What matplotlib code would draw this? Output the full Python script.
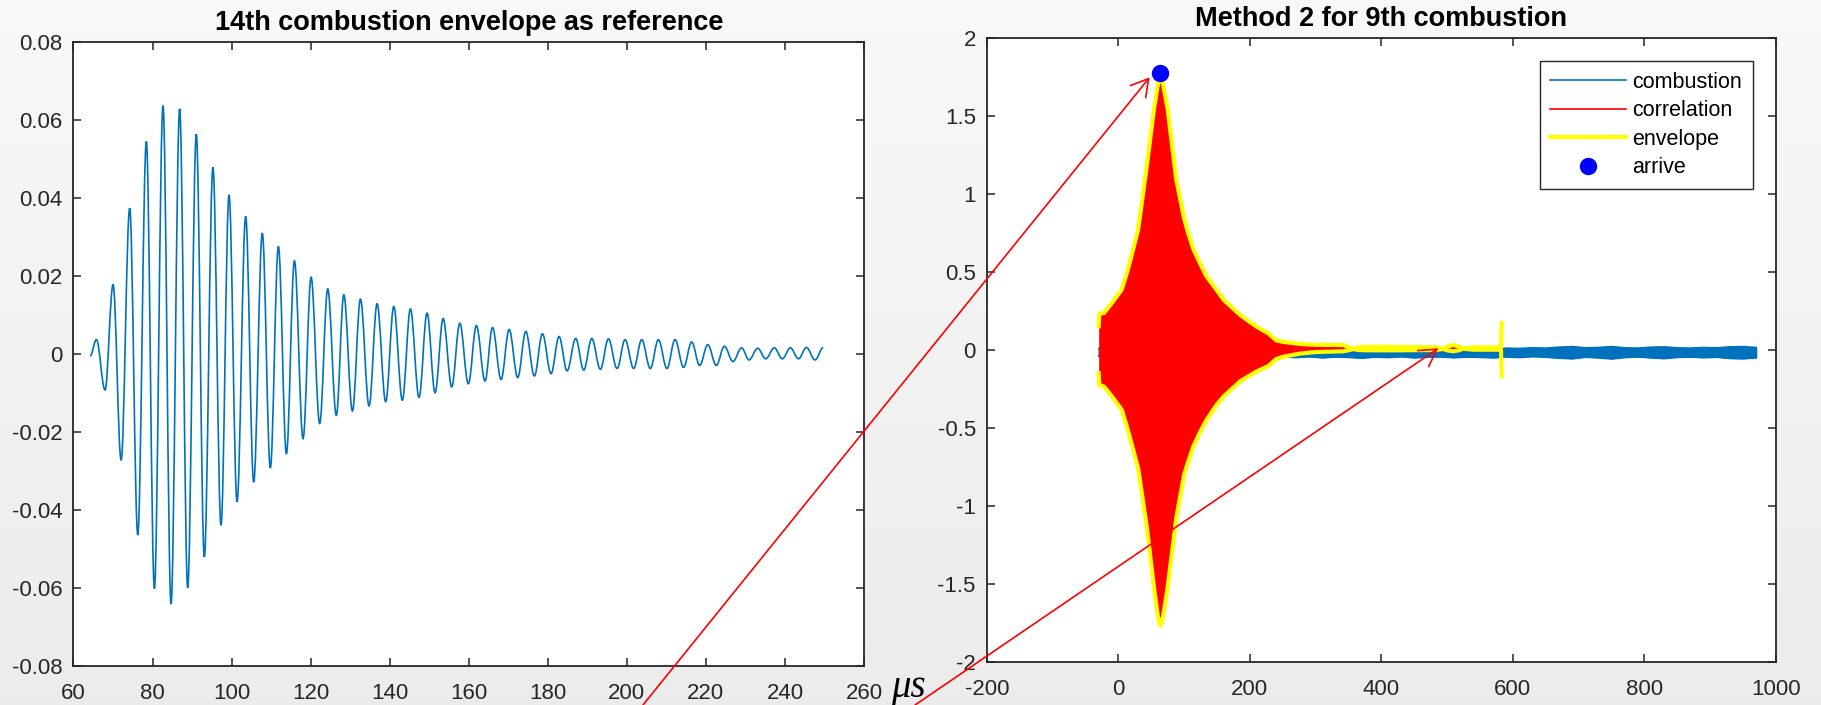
import numpy as np
import matplotlib
matplotlib.use("Agg")
import matplotlib.pyplot as plt
from matplotlib.path import Path
from matplotlib.patches import PathPatch, ConnectionPatch, ArrowStyle

plt.rcParams['font.family'] = ['Liberation Sans', 'DejaVu Sans']
plt.rcParams['axes.unicode_minus'] = False

# ---------------- left panel: 14th combustion reference waveform ----------------
ref_start = (64.2, -0.0006)
ref_end = (249.7, 0.0016)
peak_t = [65.80, 70.01, 74.22, 78.43, 82.65, 86.86, 91.07, 95.28, 99.35, 103.56,
          107.77, 111.84, 115.90, 120.11, 124.32, 128.39, 132.60, 136.81, 141.03, 145.24,
          149.45, 153.52, 157.73, 161.94, 166.01, 170.22, 174.43, 178.64, 182.85, 187.06,
          191.13, 195.34, 199.55, 203.76, 207.98, 212.19, 216.40, 220.47, 224.68, 229.03,
          233.10, 237.31, 241.37, 245.44]
peak_v = [0.0036, 0.0177, 0.0373, 0.0544, 0.0636, 0.0628, 0.0563, 0.0478, 0.0407, 0.0352,
          0.0309, 0.0275, 0.0238, 0.0196, 0.0166, 0.0151, 0.0140, 0.0128, 0.0121, 0.0115,
          0.0104, 0.0090, 0.0078, 0.0072, 0.0067, 0.0062, 0.0057, 0.0051, 0.0044, 0.0039,
          0.0039, 0.0038, 0.0036, 0.0036, 0.0036, 0.0036, 0.0030, 0.0023, 0.0019, 0.0015,
          0.0014, 0.0015, 0.0015, 0.0016]
trough_t = [67.98, 72.05, 76.26, 80.47, 84.68, 88.89, 93.10, 97.32, 101.38, 105.59,
            109.80, 113.87, 118.08, 122.29, 126.50, 130.57, 134.78, 138.99, 143.20, 147.42,
            151.48, 155.69, 159.90, 164.11, 168.18, 172.39, 176.61, 180.82, 184.88, 189.09,
            193.30, 197.52, 201.73, 205.94, 210.15, 214.36, 218.43, 222.64, 226.85, 230.92,
            235.13, 239.34, 243.41, 247.62]
trough_v = [-0.0093, -0.0273, -0.0465, -0.0602, -0.0642, -0.0600, -0.0521, -0.0440, -0.0380, -0.0329,
            -0.0293, -0.0257, -0.0218, -0.0179, -0.0158, -0.0147, -0.0134, -0.0123, -0.0119, -0.0112,
            -0.0100, -0.0085, -0.0077, -0.0070, -0.0066, -0.0061, -0.0057, -0.0051, -0.0044, -0.0042,
            -0.0040, -0.0038, -0.0038, -0.0038, -0.0038, -0.0035, -0.0030, -0.0030, -0.0020, -0.0016,
            -0.0013, -0.0013, -0.0013, -0.0016]

left_xticks = [60, 80, 100, 120, 140, 160, 180, 200, 220, 240, 260]
left_yticks = [-0.08, -0.06, -0.04, -0.02, 0, 0.02, 0.04, 0.06, 0.08]
left_yticklabels = ['-0.08', '-0.06', '-0.04', '-0.02', '0', '0.02', '0.04', '0.06', '0.08']

# ---------------- right panel: method 2 for 9th combustion ----------------
env_x = [-30, -29, -22, -8, 5, 12, 18, 30, 43, 54, 60, 64, 68, 75, 88, 100, 106, 114, 124, 134,
         150, 160, 186, 210, 228, 240, 251, 276, 300, 342, 352, 358, 365, 378, 420, 484, 494,
         500, 509, 518, 524, 540, 582, 583]
env_hi = [0.15, 0.232, 0.235, 0.31, 0.385, 0.48, 0.57, 0.77, 1.17, 1.54, 1.70, 1.755, 1.70, 1.54,
          1.09, 0.84, 0.75, 0.645, 0.555, 0.47, 0.38, 0.32, 0.22, 0.148, 0.105, 0.06, 0.05, 0.037,
          0.031, 0.030, 0.012, 0.006, 0.014, 0.019, 0.018, 0.015, 0.006, 0.018, 0.031, 0.020,
          0.008, 0.015, 0.015, 0.17]
env_lo = [-0.15, -0.226, -0.236, -0.31, -0.385, -0.48, -0.57, -0.76, -1.13, -1.52, -1.71, -1.77,
          -1.71, -1.52, -1.08, -0.80, -0.72, -0.62, -0.53, -0.45, -0.35, -0.30, -0.20, -0.14,
          -0.105, -0.06, -0.045, -0.025, -0.015, -0.010, -0.002, 0.004, -0.002, -0.004, -0.004,
          -0.002, 0.005, -0.004, -0.010, -0.004, 0.006, 0.0, 0.0, -0.17]

blue_x = [-30, -10, 10, 30, 50, 70, 90, 110, 130, 150, 170, 190, 210, 230, 250, 270, 290,
          310, 330, 350, 370, 390, 410, 430, 450, 470, 490, 510, 530, 550, 570, 590, 610,
          630, 650, 670, 690, 710, 730, 750, 770, 790, 810, 830, 850, 870, 890, 910, 930, 950, 970]
blue_hi = [0.008, 0.010, 0.006, 0.010, 0.008, 0.006, 0.010, 0.008, 0.006, 0.010, 0.008, 0.006,
           0.010, 0.008, 0.006, 0.004, 0.002, 0.000, -0.004, -0.002, -0.006, -0.004, -0.008,
           -0.004, -0.006, -0.002, -0.006, -0.004, -0.002, -0.004, 0.000, 0.010, 0.008, 0.012,
           0.010, 0.016, 0.020, 0.012, 0.014, 0.020, 0.012, 0.010, 0.016, 0.018, 0.012, 0.010,
           0.014, 0.012, 0.018, 0.020, 0.014]
blue_lo = [-0.040, -0.045, -0.042, -0.048, -0.044, -0.040, -0.046, -0.043, -0.041, -0.047,
           -0.044, -0.040, -0.046, -0.042, -0.045, -0.048, -0.043, -0.050, -0.044, -0.047,
           -0.052, -0.045, -0.048, -0.043, -0.050, -0.046, -0.044, -0.049, -0.045, -0.047,
           -0.050, -0.044, -0.048, -0.042, -0.046, -0.052, -0.056, -0.046, -0.050, -0.057,
           -0.048, -0.044, -0.050, -0.055, -0.047, -0.045, -0.049, -0.046, -0.054, -0.056, -0.050]

arrive_x, arrive_y = 64, 1.776
arrow_tips = [(47.5, 1.746), (486.6, 0.009)]       # data coords of the right panel
arrow_tails = [(0.3531, 0.0), (0.5025, 0.0)]       # figure fraction

right_xticks = [-200, 0, 200, 400, 600, 800, 1000]
right_yticks = [-2, -1.5, -1, -0.5, 0, 0.5, 1, 1.5, 2]
right_yticklabels = ['-2', '-1.5', '-1', '-0.5', '0', '0.5', '1', '1.5', '2']

# ---------------- styles ----------------
MATLAB_BLUE = '#0072BD'
AX_COLOR = '#262626'


def smooth_path(ts, vs, k=0.3634):
    """Cubic Bezier path through the extrema with flat tangents at each knot."""
    verts = [(ts[0], vs[0])]
    codes = [Path.MOVETO]
    for i in range(len(ts) - 1):
        dt = ts[i + 1] - ts[i]
        verts += [(ts[i] + k * dt, vs[i]), (ts[i + 1] - k * dt, vs[i + 1]), (ts[i + 1], vs[i + 1])]
        codes += [Path.CURVE4] * 3
    return Path(verts, codes)


def style_axes(ax):
    ax.set_facecolor('white')
    for s in ax.spines.values():
        s.set_color(AX_COLOR)
        s.set_linewidth(1.3)
    ax.tick_params(direction='in', length=6, width=1.1, color=AX_COLOR,
                   labelcolor=AX_COLOR, labelsize=16, top=True, right=True)
    ax.tick_params(axis='x', pad=12.5)
    ax.tick_params(axis='y', pad=8.0)


fig = plt.figure(figsize=(18.21, 7.05), dpi=100)
fig.patch.set_facecolor('#f0f0f0')

# soft light-grey backdrop, lighter towards the top
bg = fig.add_axes([0, 0, 1, 1], zorder=-10)
shade = np.linspace(0.975, 0.925, 256)[:, None]
bg.imshow(np.dstack([shade, shade, shade]), aspect='auto', extent=[0, 1, 0, 1])
bg.axis('off')

# ---- left axes ----
ax1 = fig.add_axes([0.04036, 0.05574, 0.4341, 0.88511])
style_axes(ax1)
ts = [ref_start[0]]
vs = [ref_start[1]]
for pt, pv, tt, tv in zip(peak_t, peak_v, trough_t, trough_v):
    ts += [pt, tt]
    vs += [pv, tv]
ts.append(ref_end[0])
vs.append(ref_end[1])
ax1.add_patch(PathPatch(smooth_path(ts, vs), fill=False, edgecolor=MATLAB_BLUE, lw=1.2))
ax1.set_xlim(60, 260)
ax1.set_ylim(-0.08, 0.08)
ax1.set_xticks(left_xticks)
ax1.set_xticklabels([str(v) for v in left_xticks])
ax1.set_yticks(left_yticks)
ax1.set_yticklabels(left_yticklabels)
ax1.set_title('14th combustion envelope as reference', fontsize=19.5, fontweight='bold',
              pad=8.4, color='black')

# ---- right axes ----
ax2 = fig.add_axes([0.54196, 0.06142, 0.43322, 0.8851])
style_axes(ax2)
ax2.fill_between(blue_x, blue_lo, blue_hi, color=MATLAB_BLUE, lw=1.0, zorder=1)
h_comb, = ax2.plot(blue_x, blue_hi, color=MATLAB_BLUE, lw=1.2, zorder=1)
ax2.plot(blue_x, blue_lo, color=MATLAB_BLUE, lw=1.2, zorder=1)

ax2.fill_between(env_x, env_lo, env_hi, color='red', lw=0, zorder=2)
h_corr, = ax2.plot(env_x, env_hi, color='red', lw=1.2, zorder=2)
ax2.plot(env_x, env_lo, color='red', lw=1.2, zorder=2)

h_env, = ax2.plot(env_x, env_hi, color='yellow', lw=3.0, zorder=3, solid_joinstyle='round')
ax2.plot(env_x, env_lo, color='yellow', lw=3.0, zorder=3, solid_joinstyle='round')

h_arr, = ax2.plot([arrive_x], [arrive_y], 'o', color='#0000ff', markersize=11.5, zorder=4)

ax2.set_xlim(-200, 1000)
ax2.set_ylim(-2, 2)
ax2.set_xticks(right_xticks)
ax2.set_xticklabels([str(v) for v in right_xticks])
ax2.set_yticks(right_yticks)
ax2.set_yticklabels(right_yticklabels)
ax2.set_title('Method 2 for 9th combustion', fontsize=19.5, fontweight='bold',
              pad=8.4, color='black')

leg = ax2.legend([h_comb, h_corr, h_env, h_arr],
                 ['combustion', 'correlation', 'envelope', 'arrive'],
                 loc='upper right', fontsize=15.5, frameon=True, fancybox=False,
                 framealpha=1, edgecolor=AX_COLOR, borderpad=0.5, labelspacing=0.35,
                 handlelength=3.5, handletextpad=0.3, borderaxespad=1.07, numpoints=1)
leg.get_frame().set_linewidth(1.0)

# ---- red pointer arrows ----
for tail, tip in zip(arrow_tails, arrow_tips):
    cp = ConnectionPatch(xyA=tail, coordsA='figure fraction', xyB=tip, coordsB=ax2.transData,
                         arrowstyle=ArrowStyle('->', head_length=12, head_width=7),
                         mutation_scale=1, color='red', lw=1.2, shrinkA=0, shrinkB=0, zorder=20)
    fig.add_artist(cp)

# time unit
fig.text(908 / 1821, 8 / 705, 'μs', family='Liberation Serif', style='italic',
         fontsize=28, ha='center', va='baseline', color='black')

fig.savefig('out.png', dpi=100, facecolor=fig.get_facecolor())
